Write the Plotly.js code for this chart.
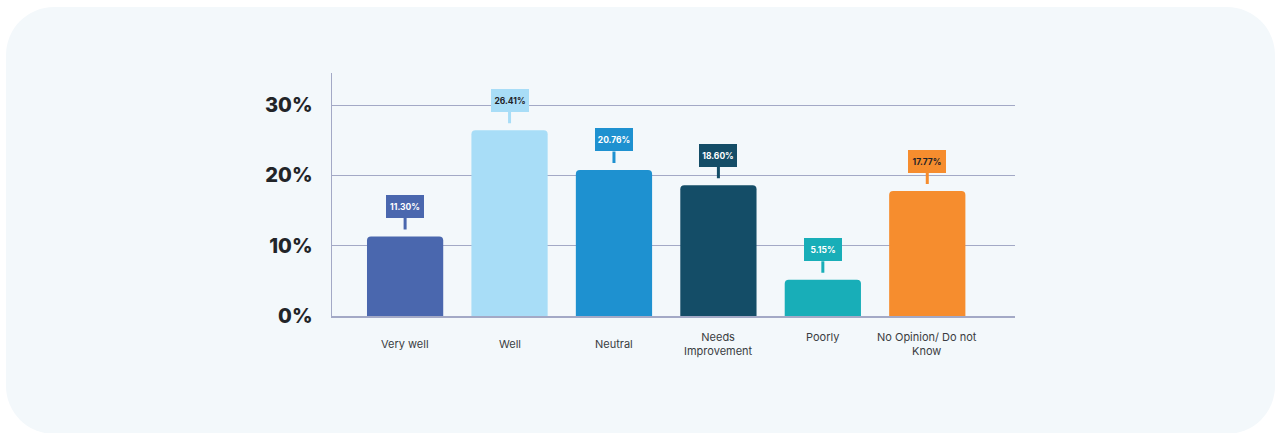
<!DOCTYPE html>
<html>
<head>
<meta charset="utf-8">
<script src="https://cdn.plot.ly/plotly-3.0.1.min.js"></script>
<style>
  html, body { margin: 0; padding: 0; background: #ffffff; width: 1276px; height: 433px; overflow: hidden; }
  #card { position: absolute; left: 6px; top: 7px; width: 1269px; height: 427px; border-radius: 48px; background: #f3f8fb; }
  #chart { position: absolute; left: 0; top: 0; width: 1276px; height: 433px; }
</style>
</head>
<body>
<div id="card"></div>
<div id="chart"></div>
<script>
const categories = ["Very well", "Well", "Neutral", "Needs Improvement", "Poorly", "No Opinion/ Do not Know"];
const axisLabels = ["Very well", "Well", "Neutral", "Needs<br>Improvement", "Poorly<br> ", "No Opinion/ Do not<br>Know"];
const values = [11.30, 26.41, 20.76, 18.60, 5.15, 17.77];
const valueLabels = ["11.30%", "26.41%", "20.76%", "18.60%", "5.15%", "17.77%"];
const barColors = ["#4a67ae", "#a8ddf7", "#1e91d0", "#144d67", "#18aeb8", "#f68d2e"];
const labelTextColors = ["#ffffff", "#1f2328", "#ffffff", "#ffffff", "#ffffff", "#1f2328"];
const yTickValues = [0, 10, 20, 30];
const yTickText = ["0%", "10%", "20%", "30%"];

const gridColor = "#a3a9c6";
const fontFamily = "Inter, 'Noto Sans', sans-serif";

const trace = {
  type: "bar",
  x: categories,
  y: values,
  width: 0.73,
  marker: { color: barColors, cornerradius: 4, line: { width: 0 } },
  hoverinfo: "none"
};

const annotations = [];
categories.forEach((c, i) => {
  annotations.push({
    x: c, y: values[i], xref: "x", yref: "y",
    text: "<b>" + valueLabels[i] + "</b>",
    font: { family: fontFamily, size: 8.5, color: labelTextColors[i] },
    bgcolor: barColors[i], bordercolor: barColors[i], borderwidth: 0,
    width: 38, height: 23, borderpad: 0,
    showarrow: true, arrowhead: 0, arrowwidth: 3, arrowcolor: barColors[i],
    ax: 0, ay: -30, axref: "pixel", ayref: "pixel", standoff: 7
  });
  annotations.push({
    x: c, y: 0, xref: "x", yref: "y",
    text: axisLabels[i],
    font: { family: fontFamily, size: 11, color: "#3a3d42" },
    showarrow: false, yanchor: "middle", xanchor: "center",
    yshift: -28, align: "center"
  });
});

const layout = {
  width: 1276, height: 433,
  margin: { l: 332, r: 261, t: 73, b: 117, pad: 0 },
  paper_bgcolor: "rgba(0,0,0,0)",
  plot_bgcolor: "rgba(0,0,0,0)",
  showlegend: false,
  xaxis: {
    type: "category",
    categoryorder: "array", categoryarray: categories,
    range: [-0.70, 5.84],
    showticklabels: false, ticks: "",
    showgrid: false, zeroline: false,
    showline: true, linecolor: gridColor, linewidth: 1.5
  },
  yaxis: {
    range: [0, 34.55],
    tickvals: yTickValues, ticktext: yTickText,
    tickfont: { family: fontFamily, size: 20, color: "#222428", weight: 800 },
    ticks: "", ticklabelstandoff: 14,
    showgrid: true, gridcolor: gridColor, gridwidth: 1,
    zeroline: false,
    showline: true, linecolor: gridColor, linewidth: 1.5
  },
  annotations: annotations
};

Plotly.newPlot("chart", [trace], layout, { displayModeBar: false, staticPlot: true });
</script>
</body>
</html>
